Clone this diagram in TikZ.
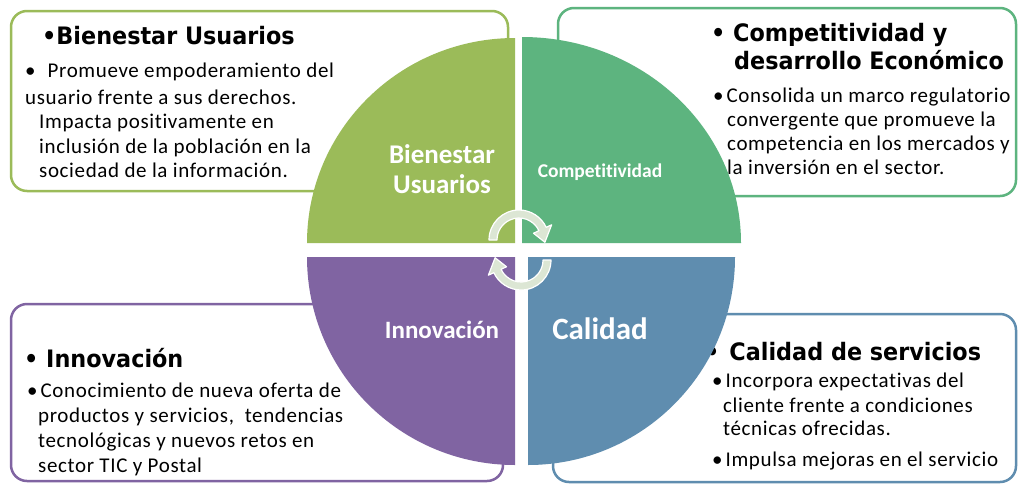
\documentclass[tikz,border=0pt]{standalone}
\usepackage{fontspec}
\usetikzlibrary{calc}
\newfontfamily\bodyfont[LetterSpace=3, Ligatures=CommonOff]{Carlito}
\newfontfamily\quadfont[Ligatures=CommonOff]{Carlito}
\newfontfamily\titlefont[FakeStretch=0.93]{DejaVu Sans}
\definecolor{cTL}{HTML}{9BBB59}
\definecolor{cTR}{HTML}{5DB47F}
\definecolor{cBL}{HTML}{8064A2}
\definecolor{cBR}{HTML}{5F8DAF}
\definecolor{arrowfill}{HTML}{DCE6D4}
\tikzset{
  infobox/.style={fill=white, line width=2.5pt, rounded corners=16pt},
  body/.style={anchor=base west, inner sep=0pt, font=\bodyfont\fontsize{21}{25}\selectfont},
  ttl/.style={anchor=base west, inner sep=0pt, font=\titlefont\bfseries\fontsize{24}{29}\selectfont},
  qlab/.style={anchor=base, inner sep=0pt, text=white},
  cyc/.style={fill=arrowfill, draw=white, line width=1.2pt, line join=round}
}
\begin{document}
\begin{tikzpicture}[x=1pt,y=-1pt]
\fill[white] (0,0) rectangle (1019,485);
\path[use as bounding box] (0,0) rectangle (1019,485);

% boxes
\draw[infobox, draw=cTL] (11,11) rectangle (508,191);
\draw[infobox, draw=cTR] (558,8) rectangle (1016,196);
\draw[infobox, draw=cBL] (11,304) rectangle (503,481);
\draw[infobox, draw=cBR] (553,314) rectangle (1016,482);

% box 1 text
\node[ttl] (t1) at (42,44) {•Bienestar Usuarios};
\node[body] (t1a) at (25,77) {•\hspace{12pt}Promueve empoderamiento del};
\node[body] (t1b) at (25,104) {usuario frente a sus derechos.};
\node[body] (t1c) at (39,128) {Impacta positivamente en};
\node[body] (t1d) at (39,153) {inclusión de la población en la};
\node[body] (t1e) at (39,177) {sociedad de la información.};

% box 2 text
\node[ttl] (t2) at (711,41) {• Competitividad y};
\node[ttl] (t2x) at (734,69) {desarrollo Económico};
\node[body] (t2a) at (713,102) {•\hspace{3pt}Consolida un marco regulatorio};
\node[body] (t2b) at (727,126) {convergente que promueve la};
\node[body] (t2c) at (727,150) {competencia en los mercados y};
\node[body] (t2d) at (727,174) {la inversión en el sector.};

% box 3 text
\node[ttl] (t3) at (24,367) {• Innovación};
\node[body] (t3a) at (27,397) {•\hspace{3pt}Conocimiento de nueva oferta de};
\node[body] (t3b) at (38,422) {productos y servicios,\ \ tendencias};
\node[body] (t3c) at (38,447) {tecnológicas y nuevos retos en};
\node[body] (t3d) at (38,472) {sector TIC y Postal};

% box 4 text
\node[ttl] (t4) at (705,360) {•\hspace{10pt}Calidad de servicios};
\node[body] (t4a) at (712,387) {•\hspace{3pt}Incorpora expectativas del};
\node[body] (t4b) at (723,412) {cliente frente a condiciones};
\node[body] (t4c) at (723,435) {técnicas ofrecidas.};
\node[body] (t4d) at (712,466) {•\hspace{3pt}Impulsa mejoras en el servicio};

% quadrants
\fill[cTL] (515,243) -- (307,243) arc[start angle=180, end angle=270, x radius=208, y radius=205] -- cycle;
\fill[cTR] (522,243) -- (522,37) arc[start angle=270, end angle=360, x radius=219, y radius=206] -- cycle;
\fill[cBL] (515,257) -- (515,465) arc[start angle=90, end angle=180, x radius=208, y radius=208] -- cycle;
\fill[cBR] (528,257) -- (735,257) arc[start angle=0, end angle=90, x radius=207, y radius=208] -- cycle;

% quadrant labels
\node[qlab, font=\quadfont\bfseries\fontsize{27}{30}\selectfont] (q1a) at (442,163) {Bienestar};
\node[qlab, font=\quadfont\bfseries\fontsize{27}{30}\selectfont] (q1b) at (442,193) {Usuarios};
\node[qlab, font=\quadfont\bfseries\fontsize{19.5}{22}\selectfont] (q2) at (600,177) {Competitividad};
\node[qlab, font=\quadfont\bfseries\fontsize{25}{28}\selectfont] (q3) at (442,338) {Innovación};
\node[qlab, font=\quadfont\bfseries\fontsize{31}{34}\selectfont] (q4) at (600,339) {Calidad};

% cycle arrows
\coordinate (c1) at (519,240);
\coordinate (c2) at (521,260);
\filldraw[cyc] ($(c1)+(180:30)$) arc[start angle=180, end angle=335, radius=30]
  -- ($(c1)+(335:36)$) -- ($(c1)+(365:26)$) -- ($(c1)+(335:16)$) -- ($(c1)+(335:22)$)
  arc[start angle=335, end angle=180, radius=22] -- cycle;
\filldraw[cyc] ($(c2)+(0:30)$) arc[start angle=0, end angle=155, radius=30]
  -- ($(c2)+(155:36)$) -- ($(c2)+(185:26)$) -- ($(c2)+(155:16)$) -- ($(c2)+(155:22)$)
  arc[start angle=155, end angle=0, radius=22] -- cycle;
\end{tikzpicture}
\end{document}
